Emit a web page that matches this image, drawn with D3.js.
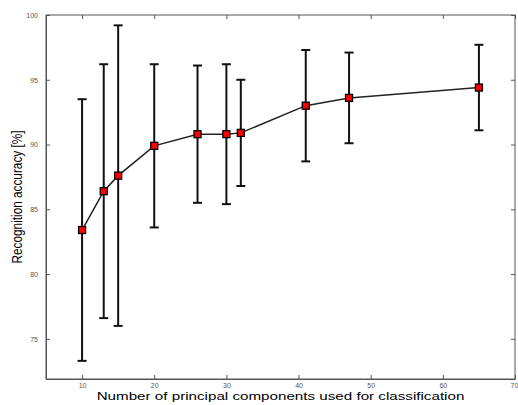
<!DOCTYPE html>
<html>
<head>
<meta charset="utf-8">
<script src="https://cdn.jsdelivr.net/npm/d3@7"></script>
<style>
  body { margin: 0; background: #fff; }
  svg { display: block; font-family: "Liberation Sans", Arial, sans-serif; }
</style>
</head>
<body>
<div id="chart"></div>
<script>
// data
var components = [10, 13, 15, 20, 26, 30, 32, 41, 47, 65];
var accuracy   = [83.4, 86.4, 87.6, 89.9, 90.8, 90.8, 90.9, 93.0, 93.6, 94.4];
var upper      = [93.5, 96.2, 99.2, 96.2, 96.1, 96.2, 95.0, 97.3, 97.1, 97.7];
var lower      = [73.3, 76.6, 76.0, 83.6, 85.5, 85.4, 86.8, 88.7, 90.1, 91.1];
var xTicks = [10, 20, 30, 40, 50, 60, 70];
var yTicks = [75, 80, 85, 90, 95, 100];

var width = 518, height = 405;
var margin = { top: 15, right: 3, bottom: 26, left: 46 };
var w = width - margin.left - margin.right,
    h = height - margin.top - margin.bottom;

var svg = d3.select('#chart').append('svg')
  .attr('width', width)
  .attr('height', height);

var g = svg.append('g')
  .attr('transform', 'translate(' + margin.left + ',' + margin.top + ')');

var x = d3.scaleLinear().domain([5, 70]).range([0, w]);
var y = d3.scaleLinear().domain([71.9, 100]).range([h, 0]);

var tickCol = '#555';

// axes, matlab style: ticks pointing inward, mirrored on top/right
var xAxis = g.append('g')
  .attr('transform', 'translate(0,' + h + ')')
  .call(d3.axisBottom(x).tickValues(xTicks).tickSizeInner(-4).tickSizeOuter(0).tickPadding(4.5));
var yAxis = g.append('g')
  .call(d3.axisLeft(y).tickValues(yTicks).tickSizeInner(-4).tickSizeOuter(0).tickPadding(8));
var xTop = g.append('g')
  .call(d3.axisTop(x).tickValues(xTicks).tickSizeInner(-4).tickSizeOuter(0).tickFormat(''));
var yRight = g.append('g')
  .attr('transform', 'translate(' + w + ',0)')
  .call(d3.axisRight(y).tickValues(yTicks).tickSizeInner(-4).tickSizeOuter(0).tickFormat(''));

[xAxis, yAxis, xTop, yRight].forEach(function(a) {
  a.select('.domain').attr('stroke', tickCol);
  a.selectAll('.tick line').attr('stroke', tickCol);
  a.selectAll('.tick text').attr('fill', tickCol).style('font-size', '7px');
});
// the last x label sits on the frame corner, keep it inside the window
xAxis.selectAll('.tick text').filter(function(d) { return d === 70; })
  .attr('text-anchor', 'end').attr('dx', '0.4em');
xTop.select('.domain').remove();
yRight.select('.domain').remove();
g.append('rect')
  .attr('width', w).attr('height', h)
  .attr('fill', 'none').attr('stroke', tickCol).attr('stroke-width', 1);

var pts = components.map(function(c, i) {
  return { x: c, y: accuracy[i], hi: upper[i], lo: lower[i] };
});

// error bars
var bars = g.append('g').selectAll('g').data(pts).enter().append('g');
bars.append('line')
  .attr('x1', function(d) { return x(d.x); })
  .attr('x2', function(d) { return x(d.x); })
  .attr('y1', function(d) { return y(d.hi); })
  .attr('y2', function(d) { return y(d.lo); })
  .attr('stroke', '#111').attr('stroke-width', 2);
['hi', 'lo'].forEach(function(k) {
  bars.append('line')
    .attr('x1', function(d) { return x(d.x) - 4.5; })
    .attr('x2', function(d) { return x(d.x) + 4.5; })
    .attr('y1', function(d) { return y(d[k]); })
    .attr('y2', function(d) { return y(d[k]); })
    .attr('stroke', '#111').attr('stroke-width', 2);
});

// mean line
var line = d3.line()
  .x(function(d) { return x(d.x); })
  .y(function(d) { return y(d.y); });
g.append('path')
  .attr('d', line(pts))
  .attr('fill', 'none')
  .attr('stroke', '#222')
  .attr('stroke-width', 1.5);

// markers
g.append('g').selectAll('rect').data(pts).enter().append('rect')
  .attr('x', function(d) { return x(d.x) - 3.5; })
  .attr('y', function(d) { return y(d.y) - 3.5; })
  .attr('width', 7).attr('height', 7)
  .attr('fill', '#f00')
  .attr('stroke', '#000').attr('stroke-width', 1.3);

// labels (the figure is stretched sideways, hence the scale)
svg.append('text')
  .attr('transform', 'translate(' + (margin.left + w / 2) + ',400) scale(1.38,1)')
  .attr('text-anchor', 'middle')
  .style('font-size', '11px')
  .attr('fill', '#000')
  .text('Number of principal components used for classification');

svg.append('text')
  .attr('transform', 'translate(21.5,' + (margin.top + h / 2) + ') scale(1.25,1) rotate(-90)')
  .attr('text-anchor', 'middle')
  .style('font-size', '11.8px')
  .attr('fill', '#000')
  .text('Recognition accuracy [%]');
</script>
</body>
</html>
